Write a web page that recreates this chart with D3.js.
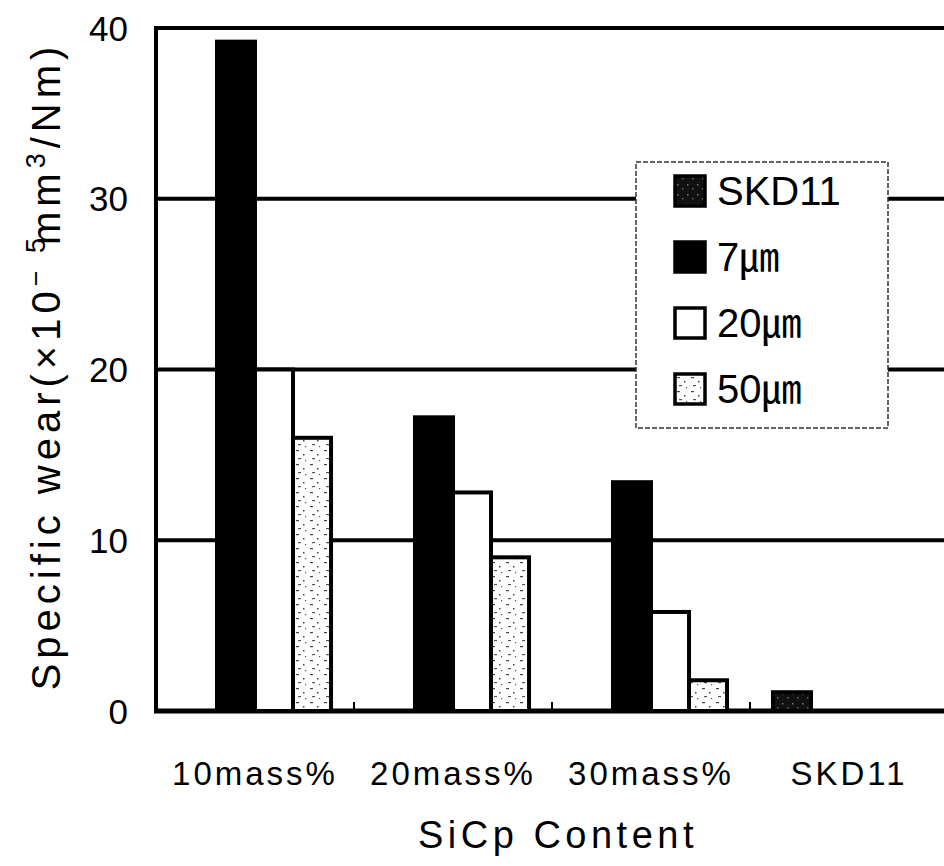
<!DOCTYPE html>
<html>
<head>
<meta charset="utf-8">
<script src="https://cdn.jsdelivr.net/npm/d3@7"></script>
<style>
  body { margin: 0; background: #fff; }
  svg { display: block; }
  text { font-family: "Liberation Sans", Arial, "Noto Sans CJK KR", sans-serif; fill: #000; }
</style>
</head>
<body>
<svg id="chart" width="944" height="866"></svg>
<script>
// chart data
const categories = ["10mass%", "20mass%", "30mass%", "SKD11"];
const seriesNames = ["SKD11", "7㎛", "20㎛", "50㎛"];
const skd11Values = [null, null, null, 1.1];
const um7Values = [39.2, 17.2, 13.4, null];
const um20Values = [20.0, 12.8, 5.8, null];
const um50Values = [16.0, 9.0, 1.8, null];
const yTicks = [0, 10, 20, 30, 40];

const seriesValues = [skd11Values, um7Values, um20Values, um50Values];

function drawChart() {
    const svg = d3.select("#chart");
    const left = 156, right = 948, top = 28, bottom = 711;

    const defs = svg.append("defs");

    // dark stipple for SKD11
    const pDark = defs.append("pattern").attr("id", "dark")
        .attr("patternUnits", "userSpaceOnUse").attr("width", 10).attr("height", 10);
    pDark.append("rect").attr("width", 10).attr("height", 10).attr("fill", "#111");
    pDark.append("rect").attr("x", 2).attr("y", 3).attr("width", 1.5).attr("height", 1.5).attr("fill", "#777");
    pDark.append("rect").attr("x", 7).attr("y", 7).attr("width", 1.5).attr("height", 1.5).attr("fill", "#666");

    // light stipple for 50um
    const pLight = defs.append("pattern").attr("id", "light")
        .attr("patternUnits", "userSpaceOnUse").attr("width", 14).attr("height", 14);
    pLight.append("rect").attr("width", 14).attr("height", 14).attr("fill", "#fff");
    pLight.append("rect").attr("x", 2).attr("y", 2).attr("width", 3).attr("height", 1.2).attr("fill", "#444");
    pLight.append("rect").attr("x", 9).attr("y", 6).attr("width", 1.5).attr("height", 1.5).attr("fill", "#444");
    pLight.append("rect").attr("x", 4).attr("y", 10).attr("width", 3).attr("height", 1.2).attr("fill", "#555");
    pLight.append("rect").attr("x", 11).attr("y", 12).attr("width", 1.2).attr("height", 1.2).attr("fill", "#555");

    const fills = ["url(#dark)", "#000", "#fff", "url(#light)"];

    const y = d3.scaleLinear().domain([0, 40]).range([bottom, top]);
    const x0 = d3.scaleBand().domain(categories).range([left, right])
        .paddingInner(0.232).paddingOuter(0.116);
    const x1 = d3.scaleBand().domain(seriesNames).range([0, x0.bandwidth()]);

    // grid lines
    svg.append("g").selectAll("line")
        .data(yTicks.filter(d => d > 0))
        .enter().append("line")
        .attr("x1", left).attr("x2", right)
        .attr("y1", d => y(d)).attr("y2", d => y(d))
        .attr("stroke", "#000").attr("stroke-width", 4);

    // axis frame
    svg.append("line").attr("x1", left).attr("x2", left).attr("y1", top - 2).attr("y2", bottom + 2)
        .attr("stroke", "#000").attr("stroke-width", 4);
    svg.append("line").attr("x1", left - 2).attr("x2", right).attr("y1", bottom).attr("y2", bottom)
        .attr("stroke", "#000").attr("stroke-width", 5);

    // small category ticks
    const step = x0.step();
    svg.append("g").selectAll("line")
        .data(categories.slice(1))
        .enter().append("line")
        .attr("x1", d => x0(d) - step * x0.paddingInner() / 2)
        .attr("x2", d => x0(d) - step * x0.paddingInner() / 2)
        .attr("y1", bottom).attr("y2", bottom - 9)
        .attr("stroke", "#000").attr("stroke-width", 2);

    // bars
    const barData = [];
    categories.forEach((c, i) => {
        seriesNames.forEach((s, j) => {
            const v = seriesValues[j][i];
            if (v != null) barData.push({ cat: c, series: s, idx: j, value: v });
        });
    });

    svg.append("g").selectAll("rect")
        .data(barData)
        .enter().append("rect")
        .attr("x", d => x0(d.cat) + x1(d.series))
        .attr("y", d => y(d.value))
        .attr("width", x1.bandwidth())
        .attr("height", d => y(0) - y(d.value))
        .attr("fill", d => fills[d.idx])
        .attr("stroke", "#000")
        .attr("stroke-width", 4);

    // y tick labels
    svg.append("g").selectAll("text")
        .data(yTicks)
        .enter().append("text")
        .attr("x", 128)
        .attr("y", d => y(d))
        .attr("dy", "0.36em")
        .attr("text-anchor", "end")
        .style("font-size", "35px")
        .text(d => d);

    // category labels
    svg.append("g").selectAll("text")
        .data(categories)
        .enter().append("text")
        .attr("x", d => x0(d) + x0.bandwidth() / 2)
        .attr("y", 785)
        .attr("text-anchor", "middle")
        .style("font-size", "33px")
        .style("letter-spacing", "3px")
        .text(d => d);

    // x axis title
    svg.append("text")
        .attr("x", 558).attr("y", 848)
        .attr("text-anchor", "middle")
        .style("font-size", "38px")
        .style("letter-spacing", "4.5px")
        .text("SiCp Content");

    // y axis title
    const yt = svg.append("text")
        .attr("transform", "translate(60,366) rotate(-90)")
        .attr("text-anchor", "middle")
        .style("font-size", "40px")
        .style("letter-spacing", "5px");
    yt.append("tspan").text("Specific wear(\u00d710");
    yt.append("tspan").attr("baseline-shift", "super").style("font-size", "27px").text("\u2212 5");
    yt.append("tspan").attr("dx", -12).text("mm");
    yt.append("tspan").attr("baseline-shift", "super").style("font-size", "27px").text("3");
    yt.append("tspan").text("/Nm)");

    // legend
    const lg = svg.append("g");
    lg.append("rect")
        .attr("x", 636).attr("y", 162).attr("width", 252).attr("height", 266)
        .attr("fill", "#fff").attr("stroke", "#333")
        .attr("stroke-width", 1.5).attr("stroke-dasharray", "5,2");
    const rows = lg.selectAll("g.item")
        .data(seriesNames)
        .enter().append("g")
        .attr("class", "item")
        .attr("transform", (d, i) => `translate(675,${191 + i * 66})`);
    rows.append("rect")
        .attr("x", 0).attr("y", -15).attr("width", 30).attr("height", 30)
        .attr("fill", (d, i) => fills[i])
        .attr("stroke", "#000").attr("stroke-width", 3.5);
    rows.append("text")
        .attr("x", 42).attr("y", 14)
        .style("font-size", "40px")
        .text(d => d);
}

drawChart();
</script>
</body>
</html>
